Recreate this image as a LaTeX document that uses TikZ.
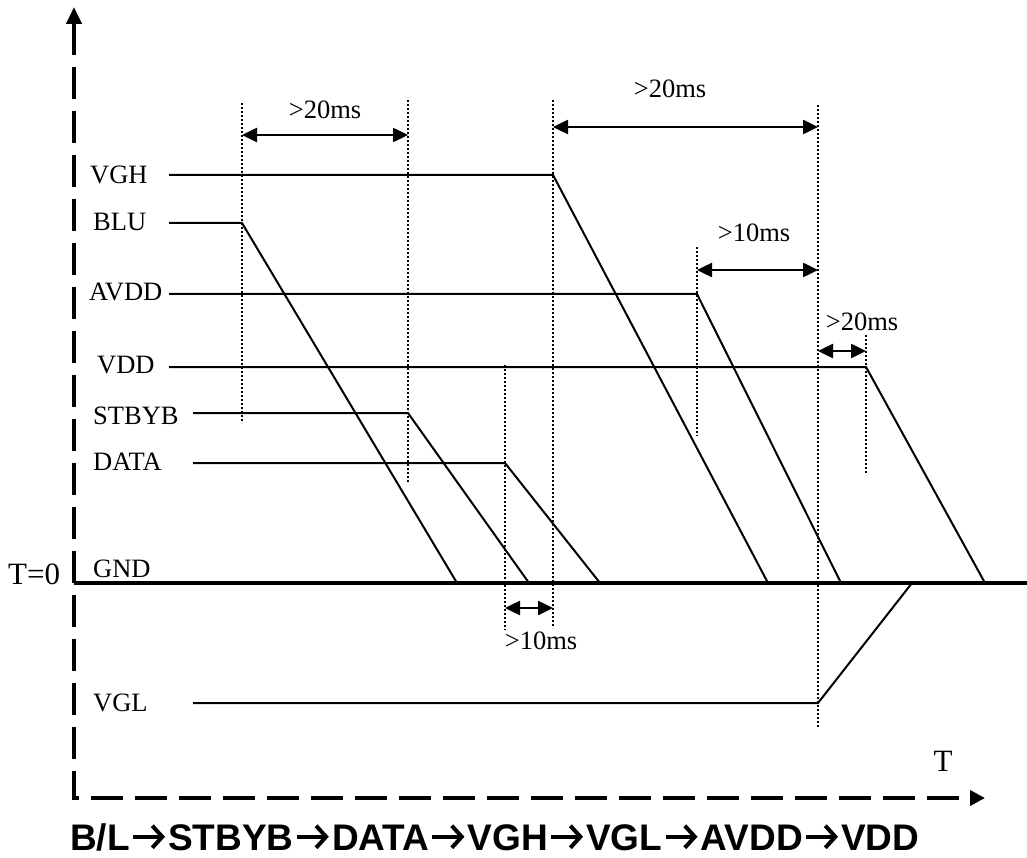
\documentclass[tikz,border=0pt]{standalone}
\usepackage{fontspec}
\setmainfont{Liberation Serif}
\newfontfamily\arialfont{Liberation Sans}
\usetikzlibrary{arrows.meta,positioning}

\begin{document}
\begin{tikzpicture}[x=1pt, y=-1pt,
    sig/.style={line width=2pt, line join=miter},
    guide/.style={line width=2pt, dash pattern=on 2pt off 2pt},
    dim/.style={line width=2.5pt, {Triangle[length=15pt,width=14pt]}-{Triangle[length=15pt,width=14pt]}},
    axis/.style={line width=4pt, dash pattern=on 32pt off 12pt},
    lbl/.style={anchor=west, inner sep=0pt, font=\fontsize{26.5}{31}\selectfont},
    big/.style={inner sep=0pt, font=\fontsize{31}{36}\selectfont},
    ttl/.style={inner sep=0pt, text height=26.5pt, text depth=0pt, font=\arialfont\bfseries\fontsize{37}{42}\selectfont},
    seq/.style={line width=4pt, shorten <=3pt, shorten >=3pt, -{Straight Barb[length=10pt,width=22pt]}}]
    \useasboundingbox (0,0) rectangle (1027,858);

    % axes
    \coordinate (ytip) at (74,7);
    \coordinate (orig) at (74,798);
    \coordinate (xtip) at (985,798);
    \draw[axis, {Triangle[length=17pt,width=15pt]}-{Triangle[length=15pt,width=15pt]}] (ytip) -- (orig) -- (xtip);
    \coordinate (gndA) at (74,583);
    \coordinate (gndB) at (1027,583);
    \draw[line width=4pt] (gndA) -- (gndB);

    % signal names
    \node[lbl] (vgh)   at (90,175)  {VGH};
    \node[lbl] (blu)   at (93,222)  {BLU};
    \node[lbl] (avdd)  at (89,292)  {AVDD};
    \node[lbl] (vdd)   at (97,365)  {VDD};
    \node[lbl] (stbyb) at (93,416)  {STBYB};
    \node[lbl] (data)  at (93,462)  {DATA};
    \node[lbl] (gnd)   at (93,569)  {GND};
    \node[lbl] (vgl)   at (93,703)  {VGL};
    \node[big, anchor=west] (tzero) at (8,574) {T=0};
    \node[big] (taxis) at (943,761) {T};

    % waveforms
    \coordinate (vghS) at (169,175);  \coordinate (vghF) at (553,175);  \coordinate (vghE) at (768,583);
    \coordinate (bluS) at (169,223);  \coordinate (bluF) at (242,223);  \coordinate (bluE) at (457,583);
    \coordinate (avddS) at (169,294); \coordinate (avddF) at (697,294); \coordinate (avddE) at (841,583);
    \coordinate (vddS) at (169,367);  \coordinate (vddF) at (866,367);  \coordinate (vddE) at (985,583);
    \coordinate (stbS) at (193,413);  \coordinate (stbF) at (408,413);  \coordinate (stbE) at (529,583);
    \coordinate (datS) at (193,463);  \coordinate (datF) at (505,463);  \coordinate (datE) at (600,583);
    \coordinate (vglS) at (193,703);  \coordinate (vglF) at (818,703);  \coordinate (vglE) at (912,583);
    \draw[sig] (vghS) -- (vghF) -- (vghE);
    \draw[sig] (bluS) -- (bluF) -- (bluE);
    \draw[sig] (avddS) -- (avddF) -- (avddE);
    \draw[sig] (vddS) -- (vddF) -- (vddE);
    \draw[sig] (stbS) -- (stbF) -- (stbE);
    \draw[sig] (datS) -- (datF) -- (datE);
    \draw[sig] (vglS) -- (vglF) -- (vglE);

    % dotted markers
    \coordinate (m1t) at (242,103); \coordinate (m1b) at (242,423);
    \coordinate (m2t) at (408,100); \coordinate (m2b) at (408,483);
    \coordinate (m3t) at (505,365); \coordinate (m3b) at (505,630);
    \coordinate (m4t) at (553,100); \coordinate (m4b) at (553,628);
    \coordinate (m5t) at (697,247); \coordinate (m5b) at (697,436);
    \coordinate (m6t) at (818,105); \coordinate (m6b) at (818,727);
    \coordinate (m7t) at (866,335); \coordinate (m7b) at (866,475);
    \draw[guide] (m1t) -- (m1b);
    \draw[guide] (m2t) -- (m2b);
    \draw[guide] (m3t) -- (m3b);
    \draw[guide] (m4t) -- (m4b);
    \draw[guide] (m5t) -- (m5b);
    \draw[guide] (m6t) -- (m6b);
    \draw[guide] (m7t) -- (m7b);

    % delays
    \draw[dim] (m1t |- 0,135) -- (m2t |- 0,135);
    \draw[dim] (m4t |- 0,127) -- (m6t |- 0,127);
    \draw[dim] (m5t |- 0,270) -- (m6t |- 0,270);
    \draw[dim] (m6t |- 0,351) -- (m7t |- 0,351);
    \draw[dim] (m3t |- 0,608) -- (m4t |- 0,608);
    \node[lbl, anchor=center] (t1) at (325,110) {>20ms};
    \node[lbl, anchor=center] (t2) at (670,89)  {>20ms};
    \node[lbl, anchor=center] (t3) at (754,233) {>10ms};
    \node[lbl, anchor=center] (t4) at (862,322) {>20ms};
    \node[lbl, anchor=center] (t5) at (541,641) {>10ms};

    % power-off order
    \node[ttl, anchor=west] (sBL) at (70,836.75) {B/L};
    \node[ttl, right=38pt of sBL] (sSTBYB) {STBYB};
    \node[ttl, right=38pt of sSTBYB] (sDATA) {DATA};
    \node[ttl, right=38pt of sDATA] (sVGH) {VGH};
    \node[ttl, right=38pt of sVGH] (sVGL) {VGL};
    \node[ttl, right=38pt of sVGL] (sAVDD) {AVDD};
    \node[ttl, right=38pt of sAVDD] (sVDD) {VDD};
    \draw[seq] (sBL) -- (sSTBYB);
    \draw[seq] (sSTBYB) -- (sDATA);
    \draw[seq] (sDATA) -- (sVGH);
    \draw[seq] (sVGH) -- (sVGL);
    \draw[seq] (sVGL) -- (sAVDD);
    \draw[seq] (sAVDD) -- (sVDD);
\end{tikzpicture}
\end{document}
